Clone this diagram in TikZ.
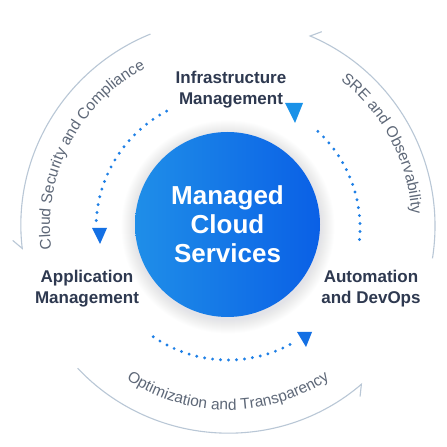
\documentclass[tikz,border=0pt]{standalone}
\usepackage{fontspec}
\setmainfont{Liberation Sans}
\usetikzlibrary{arrows.meta,decorations.text}
\definecolor{ringgray}{HTML}{B9C7D6}
\definecolor{curvegray}{HTML}{5E6878}
\definecolor{labeldark}{HTML}{2E3950}
\definecolor{dotblue}{HTML}{1F80E6}
\definecolor{triblueA}{HTML}{1A92E8}
\definecolor{triblueB}{HTML}{1470E4}
\definecolor{coreL}{HTML}{1F8EE8}
\definecolor{coreR}{HTML}{0A60E6}
\definecolor{shadowgray}{HTML}{7A8698}
\newcommand\curvefont{\fontsize{15.5}{18}\selectfont}
\begin{document}
\begin{tikzpicture}[x=1pt,y=1pt,
  ring/.style={draw=ringgray, line width=1.1pt, -{Straight Barb[harpoon,swap,length=9pt,width=17pt]}},
  dots/.style={draw=dotblue, line width=3.2pt, line cap=round, dash pattern=on 0pt off 8pt},
  label/.style={text=labeldark, font=\fontsize{17}{21}\selectfont\bfseries, align=center},
  curved/.style={decorate, decoration={text along path, text align=center, text color=curvegray}},
]
\useasboundingbox (0,0) rectangle (447,447);
\fill[white] (0,0) rectangle (447,447);
\coordinate (O) at (228,221);
\coordinate (D) at (228,219);

% outer arcs
\draw[ring] ([shift={(112:207)}]O) arc[start angle=112,end angle=186.6,radius=207];
\draw[ring] ([shift={(-9:207)}]O) arc[start angle=-9,end angle=67,radius=207];
\draw[ring] ([shift={(223.4:207)}]O) arc[start angle=223.4,end angle=310.5,radius=207];

% curved texts
\path[curved, decoration={text={|\curvefont|Cloud Security and Compliance}}]
  ([shift={(200:178)}]O) arc[start angle=200,end angle=105,radius=178];
\path[curved, decoration={text={|\curvefont|SRE and Observability}}]
  ([shift={(75:184)}]O) arc[start angle=75,end angle=-19,radius=184];
\path[curved, decoration={text={|\curvefont|Optimization and Transparency}}]
  ([shift={(220:184)}]O) arc[start angle=220,end angle=320,radius=184];

% shadow
\foreach \k in {1,...,14} \fill[shadowgray, opacity=0.011] (228,220) circle ({92.5+\k});

% core
\node[circle, minimum size=185pt, inner sep=0pt, left color=coreL, right color=coreR, text=white,
  font=\fontsize{26}{29}\selectfont\bfseries, align=center] (core) at (227.5,222.5) {Managed\\Cloud\\Services};

% labels
\node[label] (infra) at (231,357) {Infrastructure\\Management};
\node[label] (app) at (87,158) {Application\\Management};
\node[label] (auto) at (371,158) {Automation\\and DevOps};

% dotted arcs
\draw[dots] ([shift={(117.7:132)}]D) arc[start angle=117.7,end angle=177,radius=132];
\draw[dots] ([shift={(-5:132)}]D) arc[start angle=-5,end angle=49.6,radius=132];
\draw[dots] ([shift={(235.5:132)}]D) arc[start angle=235.5,end angle=299.5,radius=132];

% triangles
\fill[triblueA] (285,344) -- (303,344) -- (295,324) -- cycle;
\fill[triblueB] (92,219) -- (107,219) -- (100,203) -- cycle;
\fill[triblueB] (297,115) -- (312,115) -- (306,100) -- cycle;
\end{tikzpicture}
\end{document}
